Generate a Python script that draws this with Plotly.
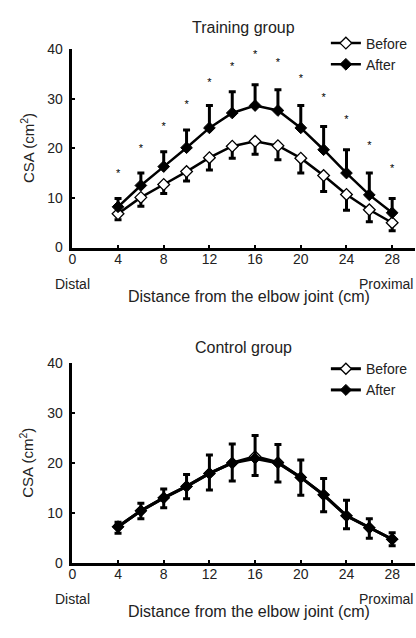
import plotly.graph_objects as go

# ---------------- data ----------------
distance = [4, 6, 8, 10, 12, 14, 16, 18, 20, 22, 24, 26, 28]

train_before = [6.8, 10.1, 12.7, 15.3, 18.1, 20.4, 21.4, 20.5, 18.0, 14.5, 10.7, 7.6, 5.0]
train_before_sd = [1.2, 1.8, 1.8, 1.9, 2.5, 2.4, 2.6, 2.8, 3.0, 3.2, 3.2, 2.4, 1.6]
train_after = [8.2, 12.5, 16.3, 20.1, 24.1, 27.1, 28.6, 27.6, 24.1, 19.7, 15.0, 10.6, 7.0]
train_after_sd = [1.7, 2.5, 3.0, 3.6, 4.5, 4.3, 4.2, 4.2, 4.5, 4.7, 4.7, 4.4, 2.9]
star_y = [14.8, 19.7, 24.3, 28.7, 33.1, 36.3, 38.7, 37.2, 33.9, 30.1, 25.6, 20.4, 15.8]

ctrl_before = [7.2, 10.4, 13.0, 15.3, 17.9, 20.0, 21.3, 20.1, 17.1, 13.6, 9.4, 7.0, 4.7]
ctrl_before_sd = [1.3, 1.6, 2.0, 2.5, 3.3, 3.6, 3.8, 3.9, 3.6, 3.4, 2.6, 2.1, 1.3]
ctrl_after = [7.2, 10.4, 13.0, 15.3, 17.9, 20.0, 20.9, 20.0, 17.1, 13.6, 9.4, 7.0, 4.7]
ctrl_after_sd = [0.9, 1.5, 1.8, 2.4, 3.7, 3.8, 4.6, 3.7, 3.5, 3.3, 3.1, 1.8, 1.3]

x_ticks = [0, 4, 8, 12, 16, 20, 24, 28]
y_ticks = [0, 10, 20, 30, 40]
titles = ["Training group", "Control group"]
x_title = "Distance from the elbow joint (cm)"
y_title = "CSA (cm<sup>2</sup>)"

FONT = "Liberation Sans, Arial, Helvetica, sans-serif"
W, H = 416, 638

fig = go.Figure()


def add_group(xa, ya, legend, before, bsd, after, asd, msize, lw):
    fig.add_trace(go.Scatter(
        x=distance, y=before, name="Before", mode="lines+markers",
        xaxis=xa, yaxis=ya, legend=legend,
        line=dict(color="black", width=lw),
        marker=dict(symbol="diamond", size=msize, color="white",
                    line=dict(color="black", width=1.3)),
        error_y=dict(type="data", symmetric=False,
                     array=[0] * len(before), arrayminus=bsd,
                     color="black", thickness=3, width=3.5),
    ))
    fig.add_trace(go.Scatter(
        x=distance, y=after, name="After", mode="lines+markers",
        xaxis=xa, yaxis=ya, legend=legend,
        line=dict(color="black", width=lw),
        marker=dict(symbol="diamond", size=msize, color="black",
                    line=dict(color="black", width=1)),
        error_y=dict(type="data", symmetric=False,
                     array=asd, arrayminus=[0] * len(after),
                     color="black", thickness=3, width=3.5),
    ))


add_group("x", "y", "legend", train_before, train_before_sd,
          train_after, train_after_sd, 9, 2.5)
add_group("x2", "y2", "legend2", ctrl_before, ctrl_before_sd,
          ctrl_after, ctrl_after_sd, 8.5, 3)

# significance stars
fig.add_trace(go.Scatter(
    x=distance, y=star_y, mode="text", text=["*"] * len(distance),
    textposition="middle center",
    textfont=dict(family=FONT, size=11, color="black"),
    xaxis="x", yaxis="y", showlegend=False, hoverinfo="skip",
))

# geometry (pixels)
x_left, x_right = 69, 415
top_y40, top_y0 = 42, 245.7
bot_y40, bot_y0 = 364.3, 569

axis_common = dict(showline=True, linecolor="black", linewidth=2.5,
                   ticks="inside", ticklen=3, tickwidth=2, tickcolor="black",
                   showgrid=False, zeroline=False,
                   tickfont=dict(family=FONT, size=14, color="#222"))

xdom = [x_left / W, x_right / W]
fig.update_layout(
    width=W, height=H,
    margin=dict(l=0, r=0, t=0, b=0),
    paper_bgcolor="white", plot_bgcolor="white",
    font=dict(family=FONT, color="#222"),
    xaxis=dict(domain=xdom, range=[0, 30], tickvals=x_ticks, anchor="y",
               ticklabelstandoff=-3, **axis_common),
    yaxis=dict(domain=[1 - top_y0 / H, 1 - top_y40 / H], range=[0, 40],
               tickvals=y_ticks, anchor="x", ticklabelstandoff=4, **axis_common),
    xaxis2=dict(domain=xdom, range=[0, 30], tickvals=x_ticks, anchor="y2",
                ticklabelstandoff=-3, **axis_common),
    yaxis2=dict(domain=[1 - bot_y0 / H, 1 - bot_y40 / H], range=[0, 40],
                tickvals=y_ticks, anchor="x2", ticklabelstandoff=4, **axis_common),
    legend=dict(x=325 / W, y=1 - 20 / H, xanchor="left", yanchor="top",
                font=dict(family=FONT, size=14, color="#222"),
                bgcolor="rgba(0,0,0,0)", tracegroupgap=0),
    legend2=dict(x=325 / W, y=1 - 354 / H, xanchor="left", yanchor="top",
                 font=dict(family=FONT, size=14, color="#222"),
                 bgcolor="rgba(0,0,0,0)", tracegroupgap=0),
    showlegend=True,
)

ann = []
for (t, ty, y40, y0) in [(titles[0], 20, top_y40, top_y0),
                         (titles[1], 348, bot_y40, bot_y0)]:
    ann.append(dict(text=t, x=242 / W, y=1 - ty / H, xref="paper", yref="paper",
                    showarrow=False, xanchor="center", yanchor="middle",
                    font=dict(family=FONT, size=16, color="#222")))
    ann.append(dict(text=x_title, x=247 / W, y=1 - (y0 + 50) / H, xref="paper", yref="paper",
                    showarrow=False, xanchor="center", yanchor="middle",
                    font=dict(family=FONT, size=16, color="#222")))
    ann.append(dict(text=y_title, x=23 / W, y=1 - ((y40 + y0) / 2) / H,
                    xref="paper", yref="paper", textangle=-90,
                    showarrow=False, xanchor="center", yanchor="middle",
                    font=dict(family=FONT, size=15, color="#222")))
    ann.append(dict(text="Distal", x=49 / W, y=1 - (y0 + 37) / H,
                    xref="paper", yref="paper", showarrow=False,
                    xanchor="left", yanchor="middle",
                    font=dict(family=FONT, size=14, color="#222")))
    ann.append(dict(text="Proximal", x=415 / W, y=1 - (y0 + 37) / H,
                    xref="paper", yref="paper", showarrow=False,
                    xanchor="right", yanchor="middle",
                    font=dict(family=FONT, size=14, color="#222")))
fig.update_layout(annotations=ann)

fig.write_html("out.html")
